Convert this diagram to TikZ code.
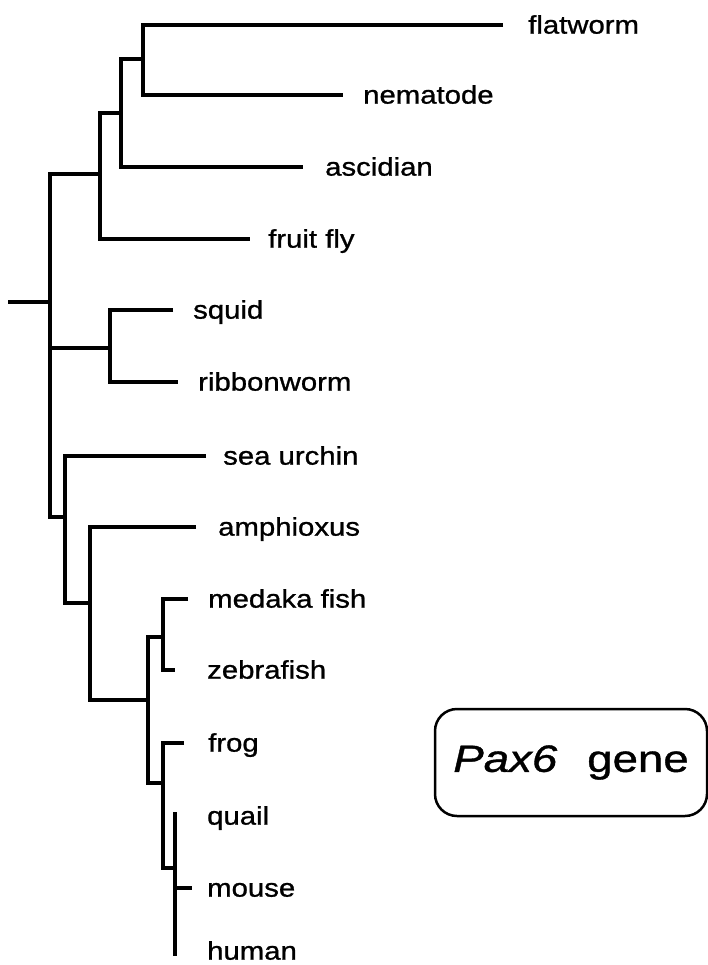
\documentclass[tikz,border=0pt]{standalone}
\usepackage{fontspec}
\setmainfont[FakeStretch=1.15,FakeBold=1]{Liberation Sans}
\newfontfamily\genefont[FakeStretch=1.2,FakeBold=1]{Liberation Sans}
\begin{document}
\begin{tikzpicture}[x=1pt,y=-1pt,
            taxon/.style={anchor=mid west, inner sep=0pt, yshift=-6pt, font=\fontsize{25.5}{30}\selectfont},
            branch/.style={line width=3.5pt},
            genebox/.style={draw, line width=2.5pt, rounded corners=22pt, minimum width=272pt, minimum height=107pt, font=\genefont\fontsize{38}{44}\selectfont}
            ]
            \useasboundingbox (0,0) rectangle (708,965);

            % inner nodes of the tree
            \coordinate (base) at (8,302);
            \coordinate (r) at (50,302);
            \coordinate (a) at (100,174);
            \coordinate (b) at (121,113);
            \coordinate (c) at (143,59);
            \coordinate (s) at (110,348);
            \coordinate (d) at (65,517);
            \coordinate (e) at (90,603);
            \coordinate (f) at (148,700);
            \coordinate (g) at (163,637);
            \coordinate (h) at (163,783);
            \coordinate (i) at (175,868);

            % branch tips
            \coordinate (tflat) at (503,25);
            \coordinate (tnem) at (343,95);
            \coordinate (tasc) at (303,167);
            \coordinate (tfly) at (250,239);
            \coordinate (tsquid) at (173,310);
            \coordinate (tribbon) at (178,382);
            \coordinate (turchin) at (206,456);
            \coordinate (tamph) at (196,527);
            \coordinate (tmedaka) at (188,599);
            \coordinate (tzebra) at (175,670);
            \coordinate (tfrog) at (184,743);
            \coordinate (tquail) at (175,812);
            \coordinate (tmouse) at (192,888);
            \coordinate (thuman) at (175,956);

            \node[taxon] (flatworm) at (528,25) {flatworm};
            \node[taxon] (nematode) at (363,95) {nematode};
            \node[taxon] (ascidian) at (325,167) {ascidian};
            \node[taxon] (fly) at (268,239) {fruit fly};
            \node[taxon] (squid) at (193,310) {squid};
            \node[taxon] (ribbon) at (198,382) {ribbonworm};
            \node[taxon] (urchin) at (223,456) {sea urchin};
            \node[taxon] (amph) at (218,527) {amphioxus};
            \node[taxon] (medaka) at (208,599) {medaka fish};
            \node[taxon] (zebra) at (207,670) {zebrafish};
            \node[taxon] (frog) at (208,743) {frog};
            \node[taxon] (quail) at (207,816) {quail};
            \node[taxon] (mouse) at (207,888) {mouse};
            \node[taxon] (human) at (207,951) {human};

            \node[genebox] (pax) at (571,762.5) {\textit{Pax6}\hspace{30pt}gene};

            \draw[branch] (base) -- (r);
            \draw[branch] (a) -| (r) |- (d);
            \draw[branch] (r) |- (s);
            \draw[branch] (b) -| (a) |- (tfly);
            \draw[branch] (c) -| (b) |- (tasc);
            \draw[branch] (tflat) -| (c) |- (tnem);
            \draw[branch] (tsquid) -| (s) |- (tribbon);
            \draw[branch] (turchin) -| (d) |- (e);
            \draw[branch] (tamph) -| (e) |- (f);
            \draw[branch] (g) -| (f) |- (h);
            \draw[branch] (tmedaka) -| (g) |- (tzebra);
            \draw[branch] (tfrog) -| (h) |- (i);
            \draw[branch] (tquail) -- (thuman);
            \draw[branch] (i |- tmouse) -- (tmouse);

            \end{tikzpicture}
\end{document}
